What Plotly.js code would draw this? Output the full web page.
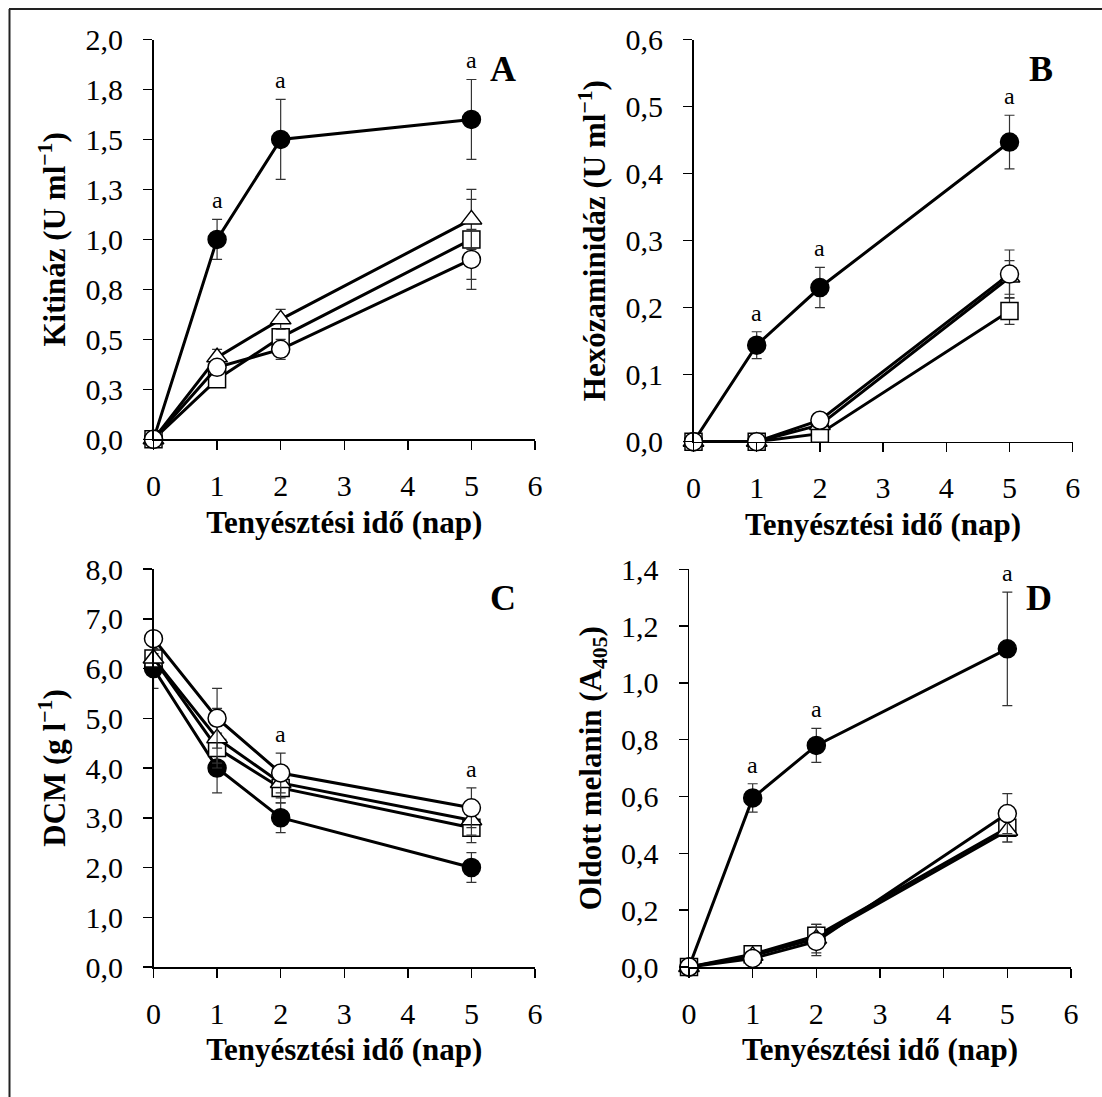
<!DOCTYPE html>
<html><head><meta charset="utf-8">
<script src="https://cdn.plot.ly/plotly-3.0.1.min.js"></script>
<style>html,body{margin:0;padding:0;background:#fff}#chart{width:1102px;height:1097px}</style>
</head><body><div id="chart"></div>
<script>
// ---------------- DATA ----------------
const days = [0, 1, 2, 5];
const xTickLabels = ['0', '1', '2', '3', '4', '5', '6'];

// Panel A – Kitináz (U ml-1)
const kitFilled = [0, 1.00, 1.50, 1.60];   const kitFilledErr = [0, 0.10, 0.20, 0.20];
const kitSquare = [0, 0.30, 0.51, 1.00];   const kitSquareErr = [0, 0.03, 0.04, 0.20];
const kitTri    = [0, 0.41, 0.60, 1.10];   const kitTriErr    = [0, 0.04, 0.05, 0.15];
const kitOpen   = [0, 0.36, 0.45, 0.90];   const kitOpenErr   = [0, 0.03, 0.05, 0.15];
const kitTicks  = ['0,0','0,3','0,5','0,8','1,0','1,3','1,5','1,8','2,0'];
const kitSig    = [1, 2, 5];

// Panel B – Hexózaminidáz (U ml-1)
const hexFilled = [0, 0.144, 0.230, 0.447]; const hexFilledErr = [0, 0.020, 0.030, 0.040];
const hexSquare = [0, 0.000, 0.012, 0.195]; const hexSquareErr = [0, 0, 0.002, 0.020];
const hexTri    = [0, 0.000, 0.025, 0.245]; const hexTriErr    = [0, 0, 0.003, 0.025];
const hexOpen   = [0, 0.000, 0.032, 0.250]; const hexOpenErr   = [0, 0, 0.004, 0.036];
const hexTicks  = ['0,0','0,1','0,2','0,3','0,4','0,5','0,6'];
const hexSig    = [1, 2, 5];

// Panel C – DCM (g l-1)
const dcmFilled = [6.0, 4.0, 3.0, 2.0];   const dcmFilledErr = [0.4, 0.5, 0.3, 0.3];
const dcmSquare = [6.2, 4.4, 3.6, 2.8];   const dcmSquareErr = [0.1, 0.3, 0.3, 0.3];
const dcmTri    = [6.2, 4.6, 3.7, 2.95];  const dcmTriErr    = [0.1, 0.6, 0.3, 0.3];
const dcmOpen   = [6.6, 5.0, 3.9, 3.2];   const dcmOpenErr   = [0.1, 0.6, 0.4, 0.4];
const dcmTicks  = ['0,0','1,0','2,0','3,0','4,0','5,0','6,0','7,0','8,0'];
const dcmSig    = [2, 5];

// Panel D – Oldott melanin (A405)
const melFilled = [0, 0.595, 0.78, 1.12]; const melFilledErr = [0, 0.05, 0.06, 0.20];
const melSquare = [0, 0.045, 0.11, 0.49]; const melSquareErr = [0, 0.005, 0.04, 0.05];
const melTri    = [0, 0.040, 0.10, 0.48]; const melTriErr    = [0, 0.005, 0.05, 0.04];
const melOpen   = [0, 0.030, 0.09, 0.54]; const melOpenErr   = [0, 0.005, 0.05, 0.07];
const melTicks  = ['0,0','0,2','0,4','0,6','0,8','1,0','1,2','1,4'];
const melSig    = [1, 2, 5];

// ---------------- LAYOUT CONSTANTS ----------------
const W = 1102, H = 1097;
const FONT = 'Liberation Serif, Times New Roman, serif';
const panels = [
  {id:'', letter:'A', box:{l:153.5, r:535,   t:39.5, b:439.3}, yTitle:'Kitináz (U ml<sup>−1</sup>)', yMax:2.0, yStep:0.25, ticks:kitTicks, sig:kitSig,
   s:[[kitFilled,kitFilledErr],[kitSquare,kitSquareErr],[kitTri,kitTriErr],[kitOpen,kitOpenErr]]},
  {id:'2', letter:'B', box:{l:693.5, r:1072.7, t:39.5, b:441.7}, yTitle:'Hexózaminidáz (U ml<sup>−1</sup>)', yMax:0.6, yStep:0.1, ticks:hexTicks, sig:hexSig,
   s:[[hexFilled,hexFilledErr],[hexSquare,hexSquareErr],[hexTri,hexTriErr],[hexOpen,hexOpenErr]]},
  {id:'3', letter:'C', box:{l:153.5, r:535,   t:569,  b:967}, yTitle:'DCM (g l<sup>−1</sup>)', yMax:8.0, yStep:1, ticks:dcmTicks, sig:dcmSig,
   s:[[dcmFilled,dcmFilledErr],[dcmSquare,dcmSquareErr],[dcmTri,dcmTriErr],[dcmOpen,dcmOpenErr]]},
  {id:'4', letter:'D', box:{l:689,   r:1071,  t:569.3, b:967}, yTitle:'Oldott melanin (A<sub>405</sub>)', yMax:1.4, yStep:0.2, ticks:melTicks, sig:melSig,
   s:[[melFilled,melFilledErr],[melSquare,melSquareErr],[melTri,melTriErr],[melOpen,melOpenErr]]}
];
const styles = [
  {symbol:'circle', fill:'#000000', size:18},
  {symbol:'square', fill:'#ffffff', size:17},
  {symbol:'triangle-up', fill:'#ffffff', size:18},
  {symbol:'circle', fill:'#ffffff', size:18}
];

const traces = [];
const layout = {
  width: W, height: H, margin:{l:0,r:0,t:0,b:0},
  paper_bgcolor:'#ffffff', plot_bgcolor:'rgba(0,0,0,0)',
  showlegend:false, font:{family:FONT, color:'#000', size:29},
  annotations:[], shapes:[
    {type:'line', xref:'paper', yref:'paper', x0:9/W, x1:1, y0:1-9/H, y1:1-9/H, line:{color:'#222', width:2}},
    {type:'line', xref:'paper', yref:'paper', x0:9.5/W, x1:9.5/W, y0:0, y1:1-9/H, line:{color:'#222', width:2}}
  ]
};

panels.forEach(p => {
  const xa = 'xaxis' + p.id, ya = 'yaxis' + p.id;
  const xr = 'x' + p.id, yr = 'y' + p.id;
  const yVals = p.ticks.map((_, i) => i * p.yStep);
  layout[xa] = {
    domain:[p.box.l / W, p.box.r / W], anchor: yr, range:[0, 6],
    tickvals: xTickLabels.map(Number), ticktext: xTickLabels,
    showline:true, linecolor:'#000', linewidth:1.5, showgrid:false, zeroline:false,
    ticks:'outside', ticklen:9, tickwidth:1.5, tickcolor:'#000', ticklabelstandoff:10,
    tickfont:{family:FONT, size:30, color:'#000'},
    title:{text:'<b>Tenyésztési idő (nap)</b>', font:{family:FONT, size:31, color:'#000'}, standoff:10},
    fixedrange:true
  };
  layout[ya] = {
    domain:[1 - p.box.b / H, 1 - p.box.t / H], anchor: xr, range:[0, p.yMax],
    tickvals: yVals, ticktext: p.ticks,
    showline:true, linecolor:'#000', linewidth:1.5, showgrid:false, zeroline:false,
    ticks:'outside', ticklen:9, tickwidth:1.5, tickcolor:'#000', ticklabelstandoff:14,
    tickfont:{family:FONT, size:30, color:'#000'},
    title:{text:'<b>' + p.yTitle + '</b>', font:{family:FONT, size:31, color:'#000'}, standoff:10},
    fixedrange:true
  };
  p.s.forEach((ser, k) => {
    traces.push({
      type:'scatter', mode:'lines+markers', x: days, y: ser[0], xaxis: xr, yaxis: yr,
      cliponaxis:false,
      line:{color:'#000', width:3},
      marker:{symbol: styles[k].symbol, size: styles[k].size,
              color: styles[k].fill, line:{color:'#000', width:1.5}},
      error_y:{type:'data', array: ser[1], visible:true, color:'#333', thickness:1.2, width:5},
      hoverinfo:'skip'
    });
  });
  // significance letters
  p.sig.forEach(d => {
    const i = days.indexOf(d);
    const top = Math.max(...p.s.map(ser => ser[0][i] + ser[1][i]));
    layout.annotations.push({x: d, y: top, xref: xr, yref: yr, text:'a', showarrow:false,
      yanchor:'bottom', yshift:4, font:{family:FONT, size:24, color:'#000'}});
  });
  // panel letter
  layout.annotations.push({x:(p.box.r - 32) / W, y:1 - (p.box.t + 29) / H, xref:'paper', yref:'paper',
    text:'<b>' + p.letter + '</b>', showarrow:false, xanchor:'center', yanchor:'middle',
    font:{family:FONT, size:36, color:'#000'}});
});

Plotly.newPlot('chart', traces, layout, {displayModeBar:false, staticPlot:true});
</script></body></html>
